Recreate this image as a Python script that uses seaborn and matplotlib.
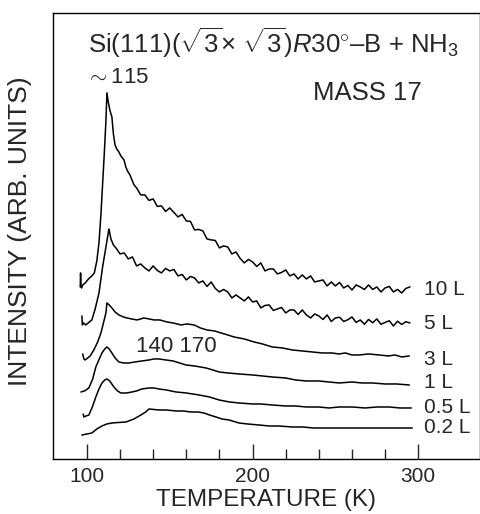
import matplotlib
matplotlib.use("Agg")
import matplotlib.pyplot as plt
import seaborn as sns
from matplotlib.ticker import FixedLocator

sns.set_style("white")
plt.rcParams['font.family'] = ['Liberation Sans', 'DejaVu Sans']
plt.rcParams['mathtext.fontset'] = 'custom'
plt.rcParams['mathtext.rm'] = 'Liberation Sans'
plt.rcParams['mathtext.it'] = 'Liberation Sans:italic'
plt.rcParams['mathtext.sf'] = 'Liberation Sans'

# ---------------- data (temperature K, intensity arb. units) ----------------
t_10L = [96.0, 96.2, 96.4, 96.8, 97.5, 99.0, 101.0, 103.0, 104.5, 106.0, 107.3, 108.5,
         109.5, 110.5, 111.5, 112.1, 113.0, 114.0, 115.1, 116.0, 117.0, 118.0, 119.3,
         120.5, 122.4, 123.5, 124.5, 126.0, 127.2, 128.5,
         130, 132.5, 135, 137.5, 140, 142.5, 145, 147.5, 150, 152.5, 155, 157.5, 160,
         162.5, 165, 167.5, 170, 172.5, 175, 177.5, 180, 182.5, 185, 187.5, 190, 192.5,
         195, 197.5, 200, 202.5, 205, 207.5, 210, 212.5, 215, 217.5, 220, 222.5, 225,
         227.5, 230, 232.5, 235, 237.5, 240, 242.5, 245, 247.5, 250, 252.5, 255, 257.5,
         260, 262.5, 265, 267.5, 270, 272.5, 275, 277.5, 280, 282.5, 285, 287.5, 290,
         292.5, 295]
i_10L = [172, 186, 174, 171, 174, 176, 180, 183, 186, 198, 216, 245,
         275, 305, 338, 366, 356, 348, 342, 325, 314, 310, 307,
         303, 299, 292, 288, 284, 279, 274,
         271, 264, 264, 258.5, 260, 252.5, 253, 247.5, 251, 246.5, 242, 244.5, 238,
         237.5, 229, 229.5, 228, 220, 219, 218.5, 211, 213, 212, 205, 207, 200.5,
         196, 199.5, 197, 192.5, 196, 188, 190, 190, 185, 186.5, 189, 183, 185,
         180, 184, 180, 183, 177, 178, 179, 173, 177, 173, 176.5, 171, 173.5,
         169, 174, 172, 169.5, 174, 169.5, 172, 167, 171, 172.5, 167, 169.5, 166,
         170.5, 172]

t_5L = [97.0, 97.3, 98.0, 99.4, 101.5, 103.0, 105.0, 107.3, 109.5, 111.5, 112.5, 113.3,
        114.5, 116.0, 118.0,
        120, 122.5, 125, 127.5, 130, 132.5, 135, 137.5, 140, 142.5, 145, 147.5, 150,
        152.5, 155, 157.5, 160, 162.5, 165, 167.5, 170, 172.5, 175, 177.5, 180, 182.5,
        185, 187.5, 190, 192.5, 195, 197.5, 200, 202.5, 205, 207.5, 210, 212.5, 215,
        217.5, 220, 222.5, 225, 227.5, 230, 232.5, 235, 237.5, 240, 242.5, 245, 247.5,
        250, 252.5, 255, 257.5, 260, 262.5, 265, 267.5, 270, 272.5, 275, 277.5, 280,
        282.5, 285, 287.5, 290, 292.5, 295]
i_5L = [143, 134, 136, 134, 137, 139, 150, 166, 192, 212, 222, 230,
        220, 214, 210,
        205, 206, 200, 202, 193, 195, 191, 188, 193, 188.5, 186, 190.5, 188,
        189.5, 183, 184.5, 179, 182.5, 181, 176, 178, 172.5, 177, 170.5, 167, 169.5,
        167, 161, 164, 161, 158, 162, 157, 158, 151, 153.5, 154, 148.5, 150,
        151.5, 146, 149, 149, 144.5, 149, 144, 141, 145, 143, 139.5, 144, 137.5,
        141, 141.7, 137.5, 139.2, 142, 136.5, 139, 134.7, 139.5, 136.2, 140, 134.7, 136.5,
        138.2, 133, 137.7, 134.5, 137.2, 136]

t_3L = [97.5, 98.2, 99.0, 100.5, 102.0, 104.2, 106.5, 108.5, 110.3, 111.5, 112.1, 113.5,
        115.1, 117.0, 119.3, 122.0, 124.2, 127.0, 130.2, 132.5, 134.4, 137.5, 140.5,
        144.0, 148.3, 152.0, 156.8, 160.5, 164.7, 168.5, 172.5, 177.0, 181.0, 185.0,
        188.8, 195.0, 200.9, 206.0, 211.8, 218.0, 223.9, 230.0, 236.0, 242.0, 248.0,
        252.0, 256.0, 260.0, 264.4, 270.0, 276.4, 282.0, 286.0, 290.0, 294.6]
i_3L = [105, 100, 99, 101, 103, 109, 117, 126, 138, 146, 156, 154,
        151, 147, 144, 142, 141, 140, 139, 140, 141, 140, 139,
        139, 137, 136, 134, 135, 134, 131, 129, 128, 126, 124,
        122, 120, 117, 115, 112, 111, 109, 108, 107, 106, 106,
        105, 106, 104, 104, 105, 104, 103, 104, 102, 103]

t_1L = [96.4, 98.5, 101.2, 103.5, 105.4, 107.5, 109.1, 110.8, 112.1, 113.5, 115.1, 117.0,
        119.3, 122.0, 125.4, 129.0, 133.2, 137.5, 140.5, 143.5, 147.7, 152.0, 156.0,
        159.8, 165.0, 171.9, 176.0, 179.8, 185.0, 191.8, 200.0, 206.0, 211.8, 220.0,
        226.0, 232.3, 240.0, 246.0, 252.3, 260.0, 266.0, 272.2, 280.0, 287.0, 294.6]
i_1L = [67, 68, 71, 80, 92, 100, 106, 110, 112, 110, 106, 101,
        97, 96, 96, 97, 98, 99, 100, 100, 99, 98, 96,
        94, 93, 91, 89, 87, 86, 85, 84, 83, 82, 81,
        79, 78, 78, 77, 76, 77, 76, 76, 75, 75, 74]

t_05L = [97.8, 98.2, 99.5, 101.2, 103.3, 105.4, 107.3, 109.1, 110.8, 112.1, 113.8, 116.3,
         118.5, 120.5, 124.0, 127.2, 130.0, 133.2, 137.5, 140.5, 143.5, 148.0, 153.8,
         160.0, 167.7, 174.0, 179.8, 186.0, 191.8, 200.0, 205.0, 211.8, 220.0, 226.0,
         232.3, 240.0, 246.0, 252.3, 260.0, 268.0, 275.0, 282.5, 289.0, 295.8]
i_05L = [45, 42, 43, 44, 52, 62, 70, 76, 79, 80, 78, 72,
         68, 66, 66, 67, 68, 70, 71, 71, 70, 69, 67,
         66, 64, 62, 59, 57, 56, 55, 55, 54, 53, 53,
         52, 52, 51, 52, 52, 51, 52, 52, 51, 51]

t_02L = [97.0, 100.0, 103.0, 106.0, 109.1, 112.0, 115.1, 119.0, 123.6, 128.4, 132.6,
         135.5, 137.5, 140.5, 143.5, 148.0, 153.8, 158.0, 162.8, 167.0, 170.7, 174.0,
         177.9, 181.5, 185.8, 191.8, 197.0, 203.9, 210.0, 216.0, 223.9, 230.0, 237.0,
         244.4, 252.0, 258.0, 264.4, 272.0, 280.0, 288.0, 296.4]
i_02L = [24, 25, 26, 30, 33, 35, 36, 36.5, 37, 40, 44,
         47, 50, 49.5, 49, 49, 48, 48, 47, 47, 46, 44,
         42, 40, 39, 36, 35, 34, 33, 33, 32, 32, 31,
         31, 31, 31, 31, 31, 31, 31, 31]

series = [(t_10L, i_10L), (t_5L, i_5L), (t_3L, i_3L), (t_1L, i_1L),
          (t_05L, i_05L), (t_02L, i_02L)]
labels = ["10 L", "5 L", "3 L", "1 L", "0.5 L", "0.2 L"]
label_y = [169, 135, 99, 76, 51, 31]

x_ticks = [100, 200, 300]
x_minor = [120, 140, 160, 180, 220, 240, 260, 280]

# ---------------- figure ----------------
fig = plt.figure(figsize=(4.81, 5.14), dpi=100)
ax = fig.add_axes([0.110, 0.107, 0.887, 0.868])

for t, i in series:
    sns.lineplot(x=t, y=i, ax=ax, color="black", linewidth=1.1, sort=False,
                 estimator=None)

for lab, yy in zip(labels, label_y):
    ax.text(303.6, yy, lab, ha="left", va="center", fontsize=15)

ax.set_xlim(79.5, 337)
ax.set_ylim(0, 446)
ax.set_yticks([])
ax.xaxis.set_major_locator(FixedLocator(x_ticks))
ax.xaxis.set_minor_locator(FixedLocator(x_minor))
ax.tick_params(axis="x", which="major", direction="in", length=11, width=1.0,
               labelsize=15, pad=6, bottom=True, top=False)
ax.tick_params(axis="x", which="minor", direction="in", length=7, width=1.0,
               bottom=True, top=False)
for s in ax.spines.values():
    s.set_visible(True)
    s.set_color("black")
    s.set_linewidth(1.0)

ax.set_xlabel("TEMPERATURE (K)", fontsize=17.5)
ax.xaxis.set_label_coords(0.5, -0.067)
ax.set_ylabel("INTENSITY (ARB. UNITS)", fontsize=19)
ax.yaxis.set_label_coords(-0.048, 0.511)

ax.text(0.518, 0.933, r"Si(111)($\sqrt{3}$$\times$ $\sqrt{3}$)$R$30$^{\circ}$–B + NH$_3$",
        transform=ax.transAxes, ha="center", va="center", fontsize=18.5)
ax.text(0.152, 0.854, r"$\sim$115", transform=ax.transAxes, ha="center",
        va="center", fontsize=16)
ax.text(0.738, 0.821, "MASS 17", transform=ax.transAxes, ha="center",
        va="center", fontsize=18.5)
ax.text(153.8, 112, "140 170", ha="center", va="center", fontsize=16)

fig.savefig("out.png", dpi=100)
